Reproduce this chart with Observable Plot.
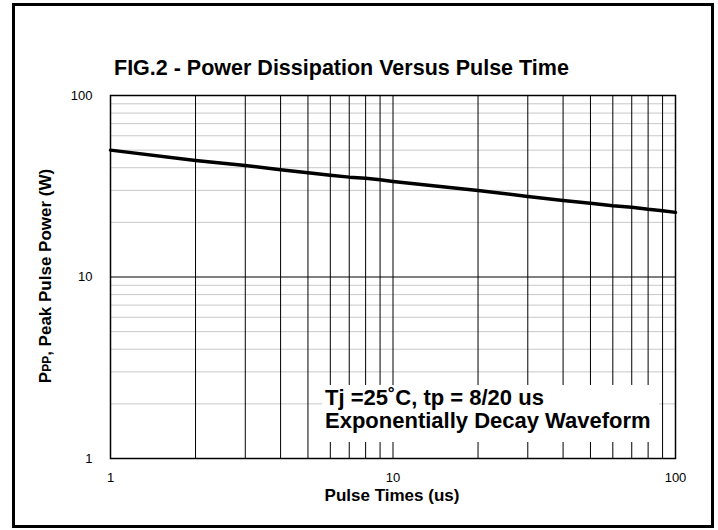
<!DOCTYPE html>
<html>
<head>
<meta charset="utf-8">
<script src="https://cdn.jsdelivr.net/npm/d3@7"></script>
<script src="https://cdn.jsdelivr.net/npm/@observablehq/plot@0.6"></script>
<style>
  body { margin: 0; background: #fff; }
  #wrap { position: relative; width: 718px; height: 530px; font-family: "Liberation Sans", Arial, sans-serif; color: #000; }
  #border { position: absolute; left: 12px; top: 3px; width: 702px; height: 525px; border: 3px solid #000; box-sizing: border-box; pointer-events: none; }
  #title { position: absolute; left: 114px; top: 56px; font-weight: bold; font-size: 21.5px; white-space: nowrap; }
  #xlabel { position: absolute; left: 392px; top: 486px; transform: translateX(-50%); font-weight: bold; font-size: 17px; white-space: nowrap; }
  #ylabel { position: absolute; left: 46px; top: 276px; transform: translate(-50%, -50%) rotate(-90deg); font-weight: bold; font-size: 17px; white-space: nowrap; }
  #ylabel .sub { font-size: 12px; }
  #note { position: absolute; left: 322px; top: 385px; width: 337px; height: 57px; background: #fff; font-weight: bold; font-size: 22px; line-height: 23px; padding-left: 3px; padding-top: 1px; box-sizing: border-box; white-space: nowrap; }
</style>
</head>
<body>
<div id="wrap">
  <div id="chart"></div>
  <div id="title">FIG.2 - Power Dissipation Versus Pulse Time</div>
  <div id="ylabel">P<span class="sub">PP</span>, Peak Pulse Power (W)</div>
  <div id="xlabel">Pulse Times (us)</div>
  <div id="note">Tj =25˚C, tp = 8/20 us<br>Exponentially Decay Waveform</div>
  <div id="border"></div>
</div>
<script>
const pulseTimes = [1, 2, 3, 4, 5, 6, 7, 8, 9, 10, 20, 30, 40, 50, 60, 70, 80, 90, 100];
const peakPower  = [50, 43.8, 41.1, 39.0, 37.5, 36.4, 35.5, 35.0, 34.3, 33.6, 30.0, 27.8, 26.4, 25.5, 24.7, 24.2, 23.6, 23.2, 22.7];
const xGridValues = [1, 2, 3, 4, 5, 6, 7, 8, 9, 10, 20, 30, 40, 50, 60, 70, 80, 90, 100];
const yMinorGrid = [2, 3, 4, 5, 6, 7, 8, 9, 20, 30, 40, 50, 60, 70, 80, 90];
const yMajorGrid = [10];
const xTickLabels = [1, 10, 100];
const yTickLabels = [1, 10, 100];

const data = pulseTimes.map((t, i) => ({t, p: peakPower[i]}));

const chart = Plot.plot({
  width: 718,
  height: 530,
  marginLeft: 110,
  marginRight: 43,
  marginTop: 95,
  marginBottom: 72,
  style: { fontFamily: "'Liberation Sans', Arial, sans-serif", fontSize: "13px", color: "#000", background: "transparent" },
  x: { type: "log", domain: [1, 100] },
  y: { type: "log", domain: [1, 100] },
  marks: [
    Plot.ruleY(yMinorGrid, { stroke: "#c8c8c8", strokeWidth: 1 }),
    Plot.ruleX(xGridValues, { stroke: "#000", strokeWidth: 1 }),
    Plot.ruleY(yMajorGrid, { stroke: "#000", strokeWidth: 1 }),
    Plot.line(data, { x: "t", y: "p", stroke: "#000", strokeWidth: 3.5 }),
    Plot.frame({ stroke: "#000", strokeWidth: 1.5 }),
    Plot.axisX(xTickLabels, { tickSize: 0, tickPadding: 14, tickFormat: d => String(d), label: null, fontSize: 13 }),
    Plot.axisY(yTickLabels, { tickSize: 0, tickPadding: 18, tickFormat: d => String(d), label: null, fontSize: 13 })
  ]
});
document.getElementById("chart").appendChild(chart);
</script>
</body>
</html>
